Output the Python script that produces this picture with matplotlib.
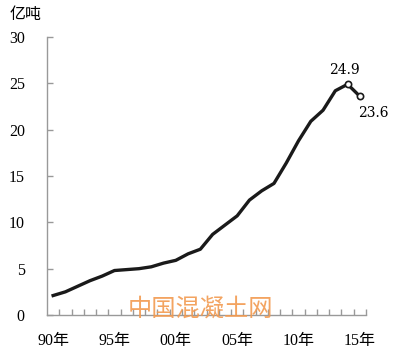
import matplotlib
matplotlib.use("Agg")
import matplotlib.pyplot as plt
from matplotlib.ticker import FixedLocator, NullFormatter

years = list(range(1990, 2016))
output = [2.1, 2.5, 3.1, 3.7, 4.2, 4.8, 4.9, 5.0, 5.2, 5.6, 5.9, 6.6, 7.1, 8.7,
          9.7, 10.7, 12.4, 13.4, 14.2, 16.4, 18.8, 20.9, 22.1, 24.2, 24.9, 23.6]
xtick_years = [1990, 1995, 2000, 2005, 2010, 2015]
xtick_labels = ["90年", "95年", "00年", "05年", "10年", "15年"]
ytick_values = [0, 5, 10, 15, 20, 25, 30]
unit_label = "亿吨"
watermark = "中国混凝土网"

fam = ["Liberation Serif", "Noto Sans CJK SC"]
cjk = ["Noto Sans CJK SC", "DejaVu Sans"]

fig = plt.figure(figsize=(3.99, 3.53), dpi=100)
ax = fig.add_axes([47/399, 1-315/353, (366-47)/399, (315-37)/353])

ax.plot(years, output, color="#1a1a1a", lw=2.4, solid_joinstyle="round", zorder=3)
ax.plot(years[-2:], output[-2:], linestyle="none", marker="o", ms=4.5,
        mfc="white", mec="#1a1a1a", mew=1.2, zorder=4)

ax.set_xlim(1989.5, 2015.5)
ax.set_ylim(0, 30)

for s in ["top", "right"]:
    ax.spines[s].set_visible(False)
for s in ["left", "bottom"]:
    ax.spines[s].set_color("#999999")
    ax.spines[s].set_linewidth(1.0)

ax.set_xticks(xtick_years)
ax.set_xticklabels(xtick_labels, fontfamily=fam, fontsize=11.5)
ax.xaxis.set_minor_locator(FixedLocator([y + 0.5 for y in years]))
ax.xaxis.set_minor_formatter(NullFormatter())
ax.tick_params(axis="x", which="major", length=0, pad=13)
ax.tick_params(axis="x", which="minor", direction="in", length=4, color="#999999", width=1)

ax.set_yticks(ytick_values)
ax.set_yticklabels([str(v) for v in ytick_values], fontfamily=fam, fontsize=11.5)
ax.tick_params(axis="y", direction="in", length=4, color="#999999", width=1, pad=16)

fig.text(10/399, 1-14/353, unit_label, fontfamily=cjk, fontsize=11.5, va="center", ha="left")

ax.annotate(f"{output[-2]}", (years[-2], output[-2]), xytext=(-2, 5),
            textcoords="offset points", ha="center", va="bottom",
            fontfamily="DejaVu Serif", fontsize=10)
ax.annotate(f"{output[-1]}", (years[-1], output[-1]), xytext=(10, -7),
            textcoords="offset points", ha="center", va="top",
            fontfamily="DejaVu Serif", fontsize=10, annotation_clip=False)

fig.text(200/399, 1-309/353, watermark, fontfamily=cjk, fontsize=17.5,
         color="#f29a50", alpha=0.9, ha="center", va="center", zorder=10)

fig.savefig("out.png", dpi=100)
